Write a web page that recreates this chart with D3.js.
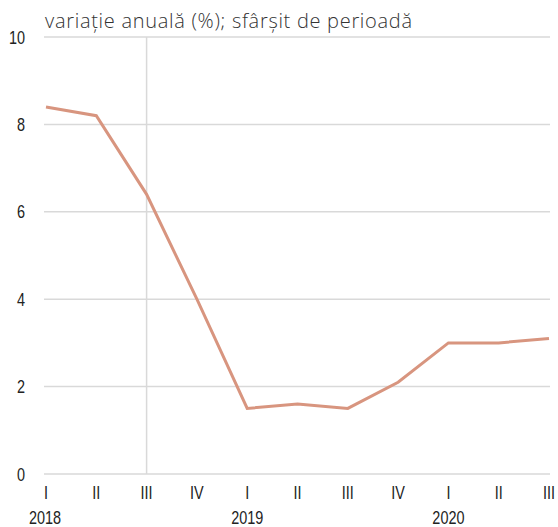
<!DOCTYPE html>
<html>
<head>
<meta charset="utf-8">
<script src="https://cdn.jsdelivr.net/npm/d3@7"></script>
<style>
  body { margin: 0; background: #fff; }
  svg text { fill: #222; }
</style>
</head>
<body>
<svg id="chart" width="558" height="527"></svg>
<script>
// quarters and values
const quarters = ["I", "II", "III", "IV", "I", "II", "III", "IV", "I", "II", "III"];
const years = ["2018", "2019", "2020"];
const yearStart = [0, 4, 8];
const values = [8.4, 8.2, 6.4, 4.0, 1.5, 1.6, 1.5, 2.1, 3.0, 3.0, 3.1];
const yTicks = [0, 2, 4, 6, 8, 10];
const title = "variație anuală (%); sfârșit de perioadă";

const svg = d3.select("#chart");
const plotLeft = 44, plotRight = 550, plotTop = 37, plotBottom = 474;
const axisFont = "'Liberation Sans', Arial, sans-serif";
const squeeze = 0.78; // condensed look of the axis labels

const x = d3.scaleLinear().domain([0, quarters.length - 1]).range([46, 549]);
const y = d3.scaleLinear().domain([0, 10]).range([plotBottom, plotTop]);

// horizontal grid
svg.append("g").selectAll("line")
  .data(yTicks)
  .join("line")
  .attr("x1", plotLeft).attr("x2", plotRight)
  .attr("y1", d => y(d)).attr("y2", d => y(d))
  .style("stroke", "#d9d9d9")
  .style("stroke-width", 1.5);

// vertical line at 2018 Q3
svg.append("line")
  .attr("x1", x(2)).attr("x2", x(2))
  .attr("y1", plotTop).attr("y2", plotBottom)
  .style("stroke", "#d9d9d9")
  .style("stroke-width", 1.5);

// y labels
svg.append("g").selectAll("text")
  .data(yTicks)
  .join("text")
  .attr("transform", d => `translate(25,${y(d) + 6.5}) scale(${squeeze},1)`)
  .attr("text-anchor", "end")
  .style("font-family", axisFont)
  .style("font-size", "18.5px")
  .text(d => d);

// quarter labels
svg.append("g").selectAll("text")
  .data(quarters)
  .join("text")
  .attr("transform", (d, i) => `translate(${x(i)},498.5) scale(${squeeze},1)`)
  .attr("text-anchor", "middle")
  .style("font-family", axisFont)
  .style("font-size", "18.5px")
  .text(d => d);

// year labels
svg.append("g").selectAll("text")
  .data(years)
  .join("text")
  .attr("transform", (d, i) => `translate(${x(yearStart[i]) - (i == 0 ? 1 : 0)},524) scale(${squeeze},1)`)
  .attr("text-anchor", "middle")
  .style("font-family", axisFont)
  .style("font-size", "18.5px")
  .text(d => d);

// title
svg.append("text")
  .attr("x", 45)
  .attr("y", 28)
  .style("font-family", "'Open Sans', sans-serif")
  .style("font-size", "20px")
  .style("font-weight", 300)
  .style("letter-spacing", "0.7px")
  .style("fill", "#333")
  .text(title);

// series
const line = d3.line()
  .x((d, i) => x(i))
  .y(d => y(d));

svg.append("path")
  .datum(values)
  .attr("d", line)
  .style("fill", "none")
  .style("stroke", "#d8957f")
  .style("stroke-width", 3);
</script>
</body>
</html>
